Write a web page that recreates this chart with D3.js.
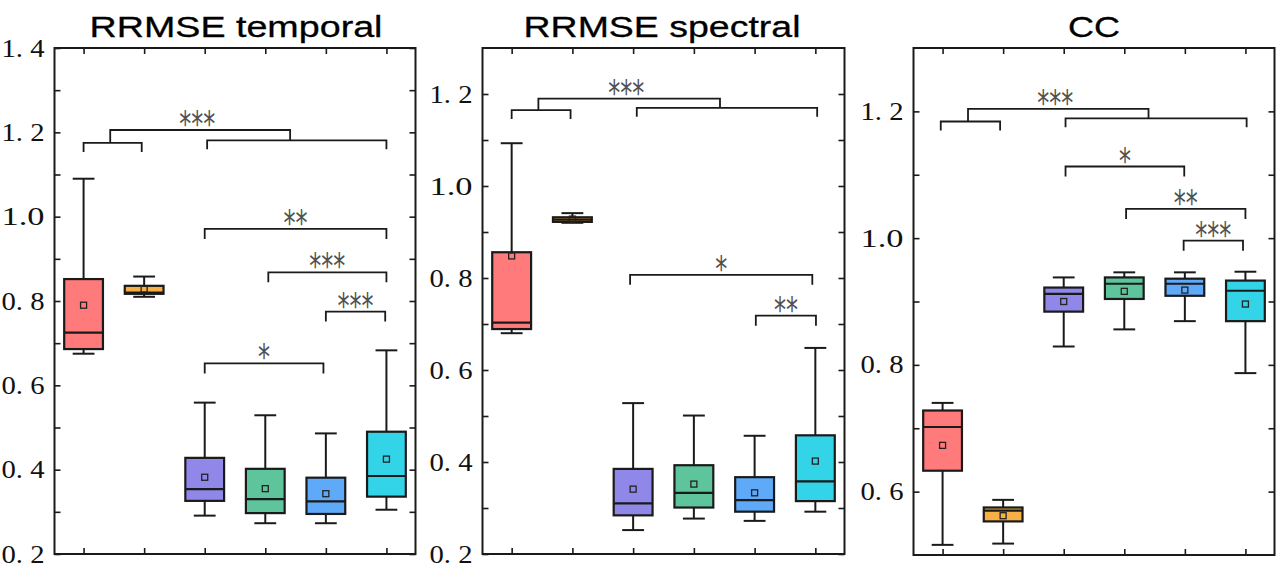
<!DOCTYPE html>
<html><head><meta charset="utf-8">
<script src="https://cdn.jsdelivr.net/npm/d3@7"></script>
<style>html,body{margin:0;padding:0;background:#fff;}svg{display:block;}</style>
</head><body>
<svg id="chart" width="1277" height="572"></svg>
<script>
// ---------- data ----------
const categories = [1, 2, 3, 4, 5, 6];
const boxColors = ["#FF7A7A", "#F7B045", "#9088E8", "#5EC49C", "#5FAAF8", "#33D3E8"];

const titles = ["RRMSE temporal", "RRMSE spectral", "CC"];

// each box: min, q1, median, q3, max, mean
const rrmseTemporal = [
  {min: 0.675, q1: 0.686, median: 0.725, q3: 0.852, max: 1.090, mean: 0.790},
  {min: 0.810, q1: 0.817, median: 0.820, q3: 0.836, max: 0.858, mean: 0.828},
  {min: 0.291, q1: 0.326, median: 0.354, q3: 0.428, max: 0.559, mean: 0.382},
  {min: 0.273, q1: 0.297, median: 0.330, q3: 0.402, max: 0.529, mean: 0.355},
  {min: 0.273, q1: 0.295, median: 0.325, q3: 0.381, max: 0.486, mean: 0.343},
  {min: 0.305, q1: 0.336, median: 0.385, q3: 0.490, max: 0.683, mean: 0.425}
];
const rrmseSpectral = [
  {min: 0.680, q1: 0.689, median: 0.703, q3: 0.856, max: 1.093, mean: 0.848},
  {min: 0.920, q1: 0.922, median: 0.927, q3: 0.932, max: 0.941, mean: 0.928},
  {min: 0.252, q1: 0.284, median: 0.310, q3: 0.385, max: 0.528, mean: 0.341},
  {min: 0.277, q1: 0.301, median: 0.333, q3: 0.393, max: 0.501, mean: 0.352},
  {min: 0.272, q1: 0.292, median: 0.317, q3: 0.367, max: 0.457, mean: 0.333},
  {min: 0.292, q1: 0.315, median: 0.358, q3: 0.458, max: 0.648, mean: 0.402}
];
const ccValues = [
  {min: 0.516, q1: 0.633, median: 0.702, q3: 0.728, max: 0.740, mean: 0.673},
  {min: 0.518, q1: 0.553, median: 0.570, q3: 0.575, max: 0.587, mean: 0.562},
  {min: 0.829, q1: 0.884, median: 0.912, q3: 0.922, max: 0.938, mean: 0.900},
  {min: 0.856, q1: 0.904, median: 0.928, q3: 0.938, max: 0.946, mean: 0.916},
  {min: 0.869, q1: 0.909, median: 0.928, q3: 0.936, max: 0.946, mean: 0.918},
  {min: 0.787, q1: 0.869, median: 0.917, q3: 0.933, max: 0.947, mean: 0.896}
];

// y-axis domains and tick labels
const temporalDomain = [0.2, 1.4];
const spectralDomain = [0.2, 1.3];
const ccDomain = [0.5, 1.3];
const temporalTicks = [0.2, 0.4, 0.6, 0.8, 1.0, 1.2, 1.4];
const temporalTickLabels = ["0. 2", "0. 4", "0. 6", "0. 8", "1.0", "1. 2", "1. 4"];
const spectralTicks = [0.2, 0.4, 0.6, 0.8, 1.0, 1.2];
const spectralTickLabels = ["0. 2", "0. 4", "0. 6", "0. 8", "1.0", "1. 2"];
const ccTicks = [0.6, 0.8, 1.0, 1.2];
const ccTickLabels = ["0. 6", "0. 8", "1.0", "1. 2"];
const temporalMinor = [0.3, 0.5, 0.7, 0.9, 1.1, 1.3];
const spectralMinor = [0.3, 0.5, 0.7, 0.9, 1.1];
const ccMinor = [0.7, 0.9, 1.1];

// significance annotations (category positions, value levels)
const temporalGroupSig = {left: [1, 1.96], leftLevel: 1.175, right: [3.04, 6], rightLevel: 1.181, join: [1.44, 4.41], topLevel: 1.2055, label: "***"};
const temporalSig = [
  {from: 3, to: 6, level: 0.971, label: "**"},
  {from: 4.05, to: 6, level: 0.868, label: "***"},
  {from: 5, to: 5.98, level: 0.775, label: "***"},
  {from: 3, to: 4.96, level: 0.652, label: "*"}
];
const spectralGroupSig = {left: [1, 1.97], leftLevel: 1.165, right: [3.06, 6.03], rightLevel: 1.170, join: [1.44, 4.43], topLevel: 1.190, label: "***"};
const spectralSig = [
  {from: 2.95, to: 5.95, level: 0.807, label: "*"},
  {from: 5.02, to: 6.01, level: 0.718, label: "**"}
];
const ccGroupSig = {left: [0.97, 1.95], leftLevel: 1.184, right: [3.03, 6.02], rightLevel: 1.189, join: [1.42, 4.40], topLevel: 1.204, label: "***"};
const ccSig = [
  {from: 3.03, to: 4.99, level: 1.113, label: "*"},
  {from: 4.03, to: 6.0, level: 1.046, label: "**"},
  {from: 4.98, to: 5.96, level: 0.996, label: "***"}
];

// ---------- layout ----------
const panels = [
  {title: titles[0], data: rrmseTemporal, domain: temporalDomain, ticks: temporalTicks, labels: temporalTickLabels, minor: temporalMinor, group: temporalGroupSig, sig: temporalSig,
   x0: 54.5, x1: 415.5, y0: 48, y1: 554, titleW: 293, titleCx: 236},
  {title: titles[1], data: rrmseSpectral, domain: spectralDomain, ticks: spectralTicks, labels: spectralTickLabels, minor: spectralMinor, group: spectralGroupSig, sig: spectralSig,
   x0: 482.5, x1: 844.5, y0: 48, y1: 554, titleW: 277, titleCx: 662},
  {title: titles[2], data: ccValues, domain: ccDomain, ticks: ccTicks, labels: ccTickLabels, minor: ccMinor, group: ccGroupSig, sig: ccSig,
   x0: 913.5, x1: 1274.5, y0: 48, y1: 555, titleW: 52, titleCx: 1094}
];

const svg = d3.select("#chart");
const lineColor = "#1a1a1a";
const starColor = "#505050";
const boxW = 0.64, capW = 0.36, tickLen = 6;

panels.forEach(p => {
  const x = d3.scaleLinear().domain([0.52, 6.48]).range([p.x0, p.x1]);
  const y = d3.scaleLinear().domain(p.domain).range([p.y1, p.y0]);
  const g = svg.append("g");

  // title
  g.append("text").attr("x", p.titleCx).attr("y", 37)
    .attr("text-anchor", "middle")
    .attr("font-family", "Liberation Sans, Arial, sans-serif")
    .attr("font-size", 30).attr("fill", "#000")
    .attr("stroke", "#000").attr("stroke-width", 0.3)
    .attr("textLength", p.titleW).attr("lengthAdjust", "spacingAndGlyphs")
    .text(p.title);

  // axes with inward ticks
  const yAxisL = d3.axisLeft(y).tickValues(p.ticks).tickSize(-tickLen).tickFormat((d, i) => p.labels[i]).tickPadding(tickLen + 4);
  const yAxisR = d3.axisRight(y).tickValues(p.ticks.concat(p.minor)).tickSize(-tickLen).tickFormat("");
  const yAxisLm = d3.axisLeft(y).tickValues(p.minor).tickSize(-tickLen).tickFormat("");
  const xAxisB = d3.axisBottom(x).tickValues(categories).tickSize(-tickLen).tickFormat("");
  const xAxisT = d3.axisTop(x).tickValues(categories).tickSize(-tickLen).tickFormat("");

  const styleAxis = sel => {
    sel.selectAll(".domain").remove();
    sel.selectAll(".tick line").attr("stroke", lineColor).attr("stroke-width", 1.6);
  };
  const gl = g.append("g").attr("transform", `translate(${p.x0},0)`).call(yAxisL).call(styleAxis);
  gl.selectAll(".tick text")
    .attr("font-family", "Liberation Serif, Times New Roman, serif")
    .attr("font-size", 25).attr("fill", "#111")
    .attr("textLength", 43).attr("lengthAdjust", "spacingAndGlyphs");
  g.append("g").attr("transform", `translate(${p.x0},0)`).call(yAxisLm).call(styleAxis);
  g.append("g").attr("transform", `translate(${p.x1},0)`).call(yAxisR).call(styleAxis);
  g.append("g").attr("transform", `translate(0,${p.y1})`).call(xAxisB).call(styleAxis);
  g.append("g").attr("transform", `translate(0,${p.y0})`).call(xAxisT).call(styleAxis);

  // frame
  g.append("rect").attr("x", p.x0).attr("y", p.y0)
    .attr("width", p.x1 - p.x0).attr("height", p.y1 - p.y0)
    .attr("fill", "none").attr("stroke", lineColor).attr("stroke-width", 2);

  // boxes
  const boxes = g.selectAll(".box").data(p.data).enter().append("g").attr("class", "box");
  boxes.append("line")
    .attr("x1", (d, i) => x(categories[i])).attr("x2", (d, i) => x(categories[i]))
    .attr("y1", d => y(d.max)).attr("y2", d => y(d.min))
    .attr("stroke", lineColor).attr("stroke-width", 2);
  boxes.append("line")
    .attr("x1", (d, i) => x(categories[i] - capW / 2)).attr("x2", (d, i) => x(categories[i] + capW / 2))
    .attr("y1", d => y(d.max)).attr("y2", d => y(d.max))
    .attr("stroke", lineColor).attr("stroke-width", 2);
  boxes.append("line")
    .attr("x1", (d, i) => x(categories[i] - capW / 2)).attr("x2", (d, i) => x(categories[i] + capW / 2))
    .attr("y1", d => y(d.min)).attr("y2", d => y(d.min))
    .attr("stroke", lineColor).attr("stroke-width", 2);
  boxes.append("rect")
    .attr("x", (d, i) => x(categories[i] - boxW / 2))
    .attr("width", (d, i) => x(categories[i] + boxW / 2) - x(categories[i] - boxW / 2))
    .attr("y", d => y(d.q3)).attr("height", d => y(d.q1) - y(d.q3))
    .attr("fill", (d, i) => boxColors[i])
    .attr("stroke", lineColor).attr("stroke-width", 2.2);
  boxes.append("line")
    .attr("x1", (d, i) => x(categories[i] - boxW / 2)).attr("x2", (d, i) => x(categories[i] + boxW / 2))
    .attr("y1", d => y(d.median)).attr("y2", d => y(d.median))
    .attr("stroke", lineColor).attr("stroke-width", 2.2);
  boxes.append("rect")
    .attr("x", (d, i) => x(categories[i]) - 3).attr("y", d => y(d.mean) - 3)
    .attr("width", 6).attr("height", 6)
    .attr("fill", "none").attr("stroke", "#222").attr("stroke-width", 1.3);

  // significance brackets
  const drop = 10;
  const bracketPath = (a, b, lvl, d) => {
    const yy = y(lvl);
    return `M${x(a)},${yy + d}V${yy}H${x(b)}V${yy + d}`;
  };
  const star = (cx, lvl, label) => {
    g.append("text").attr("x", cx).attr("y", y(lvl) + 6)
      .attr("text-anchor", "middle")
      .attr("font-family", "DejaVu Sans, sans-serif")
      .attr("font-size", 36).attr("fill", starColor)
      .attr("textLength", label.length * 12).attr("lengthAdjust", "spacingAndGlyphs")
      .text(label);
  };
  p.sig.forEach(s => {
    g.append("path").attr("d", bracketPath(s.from, s.to, s.level, drop))
      .attr("fill", "none").attr("stroke", lineColor).attr("stroke-width", 1.8);
    star((x(s.from) + x(s.to)) / 2, s.level, s.label);
  });
  const G = p.group;
  g.append("path").attr("d", bracketPath(G.left[0], G.left[1], G.leftLevel, 9))
    .attr("fill", "none").attr("stroke", lineColor).attr("stroke-width", 1.8);
  g.append("path").attr("d", bracketPath(G.right[0], G.right[1], G.rightLevel, 9))
    .attr("fill", "none").attr("stroke", lineColor).attr("stroke-width", 1.8);
  g.append("path")
    .attr("d", `M${x(G.join[0])},${y(G.leftLevel)}V${y(G.topLevel)}H${x(G.join[1])}V${y(G.rightLevel)}`)
    .attr("fill", "none").attr("stroke", lineColor).attr("stroke-width", 1.8);
  star((x(G.join[0]) + x(G.join[1])) / 2 - 3, G.topLevel, G.label);
});
</script>
</body></html>
